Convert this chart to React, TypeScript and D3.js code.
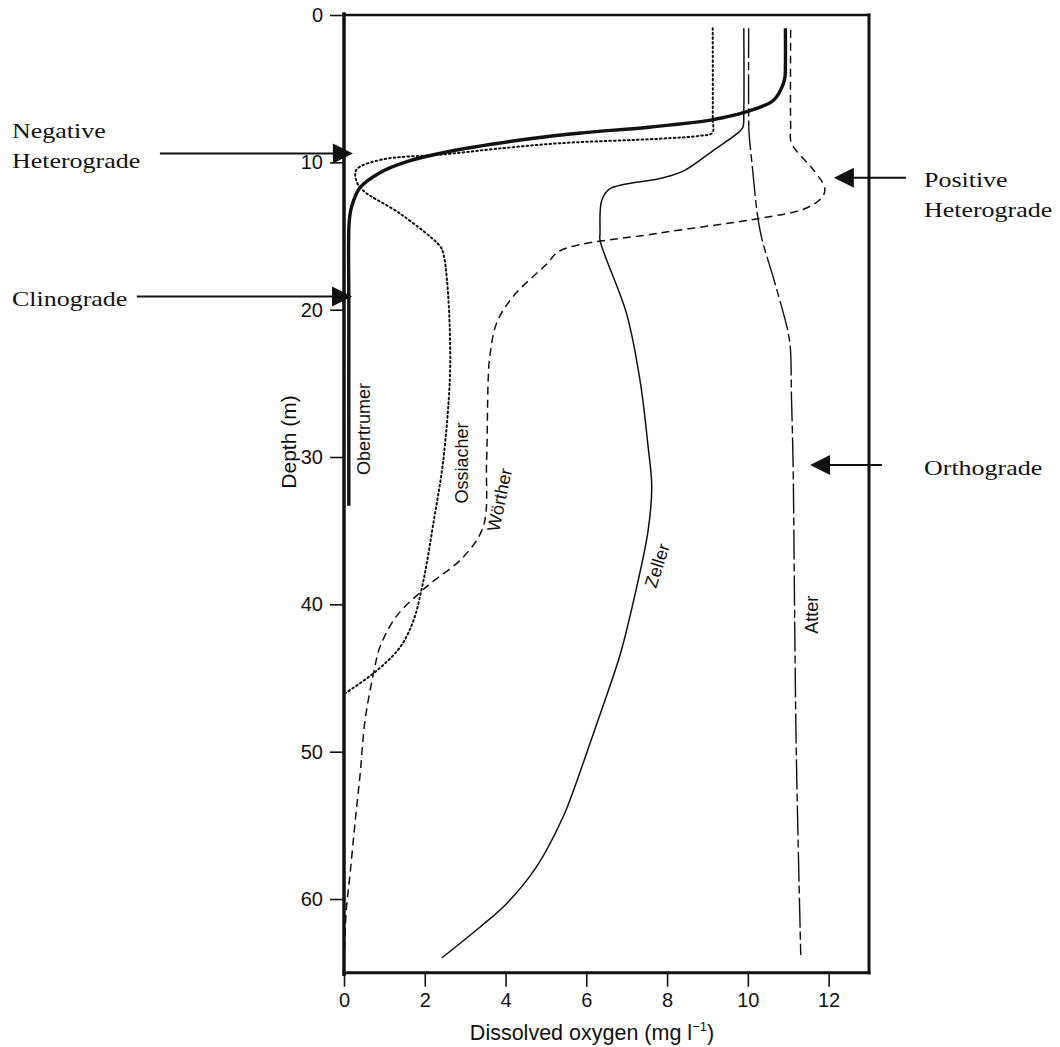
import React, { useEffect, useRef } from "react";
import * as d3 from "d3";

// [depth (m), dissolved oxygen (mg/l)]
const obertrumer = [
  [0.9, 10.93], [3.5, 10.93], [4.2, 10.92], [4.8, 10.86], [5.8, 10.63], [6.6, 9.93],
  [7.1, 9.14], [7.6, 7.6], [8.0, 5.9], [8.4, 4.6], [9.3, 2.54], [10.0, 1.5],
  [10.7, 0.89], [11.7, 0.4], [13.0, 0.19], [14.0, 0.13], [20.0, 0.12], [33.3, 0.12],
];

const ossiacher = [
  [0.9, 9.13], [7.0, 9.13], [8.0, 9.12], [8.2, 8.8], [8.4, 7.8], [8.7, 5.35],
  [9.1, 3.7], [9.44, 2.54], [9.84, 0.89], [10.5, 0.31], [11.2, 0.3], [11.9, 0.47],
  [13.5, 1.4], [15.7, 2.38], [16.2, 2.46], [18.0, 2.55], [21.4, 2.62], [24.8, 2.62],
  [30.4, 2.45], [34.7, 2.2], [37.2, 2.05], [39.0, 1.92], [41.1, 1.72], [42.9, 1.39],
  [44.5, 0.81], [46.0, 0.05],
];

const worther = [
  [1.0, 11.06], [7.5, 11.06], [8.7, 11.08], [10.5, 11.62], [11.7, 11.9], [12.3, 11.86],
  [13.1, 11.45], [13.8, 10.3], [14.8, 7.82], [16.0, 5.35], [16.9, 5.02], [19.1, 4.19],
  [20.9, 3.78], [23.2, 3.61], [24.8, 3.57], [30.4, 3.53], [34.7, 3.45], [36.8, 2.95],
  [38.6, 2.13], [39.2, 1.88], [40.8, 1.3], [42.9, 0.89], [44.7, 0.73], [47.9, 0.52],
  [51.5, 0.4], [54.9, 0.27], [58.3, 0.15], [61.0, 0.05], [64.8, 0.0],
];

const zeller = [
  [0.9, 9.9], [6.5, 9.9], [7.6, 9.88], [7.9, 9.8], [9.2, 9.14], [10.6, 8.4],
  [11.1, 7.82], [11.8, 6.58], [12.6, 6.38], [14.8, 6.34], [15.3, 6.34], [20.3, 7.0],
  [24.8, 7.33], [29.3, 7.53], [32.0, 7.62], [35.0, 7.53], [38.8, 7.25], [43.3, 6.85],
  [47.0, 6.4], [50.0, 6.02], [52.5, 5.7], [54.4, 5.43], [57.8, 4.77], [60.3, 4.03],
  [61.9, 3.37], [64.0, 2.42],
];

const atter = [
  [0.9, 10.02], [7.0, 10.02], [8.0, 10.03], [10.0, 10.1], [14.6, 10.3], [18.0, 10.65],
  [21.2, 10.97], [22.5, 11.05], [25.9, 11.08], [30.4, 11.12], [41.1, 11.16], [50.1, 11.2],
  [63.8, 11.31],
];

const depthTicks = [0, 10, 20, 30, 40, 50, 60];
const oxygenTicks = [0, 2, 4, 6, 8, 10, 12];

const lakes = [
  { name: "Obertrumer", data: obertrumer, width: 3.4, dash: null, label: [0.64, 28.1], angle: -90 },
  { name: "Ossiacher", data: ossiacher, width: 2, dash: "1.6,3", label: [3.07, 30.4], angle: -90 },
  { name: "Wörther", data: worther, width: 1.5, dash: "8,5", label: [4.0, 33.0], angle: -78 },
  { name: "Zeller", data: zeller, width: 1.5, dash: null, label: [7.9, 37.5], angle: -72 },
  { name: "Atter", data: atter, width: 1.4, dash: "30,4,8,4", label: [11.74, 40.7], angle: -90 },
];

// arrows: tail O2, tip O2, depth; text position in page pixels
const arrows = [
  { lines: ["Negative", "Heterograde"], tail: -4.56, tip: 0.22, depth: 9.4, tx: 12, ty: 138 },
  { lines: ["Clinograde"], tail: -5.13, tip: 0.2, depth: 19.1, tx: 12, ty: 306 },
  { lines: ["Positive", "Heterograde"], tail: 13.92, tip: 12.13, depth: 11.05, tx: 924, ty: 187 },
  { lines: ["Orthograde"], tail: 13.32, tip: 11.54, depth: 30.55, tx: 924, ty: 475 },
];

const SANS = "'Liberation Sans', Arial, Helvetica, sans-serif";
const SERIF = "'Liberation Serif', 'Times New Roman', serif";

const OxygenProfiles = () => {
  const chartRef = useRef(null);

  useEffect(() => {
    createChart();
  }, []);

  const createChart = () => {
    const svgWidth = 1060;
    const svgHeight = 1047;

    d3.select(chartRef.current).select("svg").remove();

    const svg = d3
      .select(chartRef.current)
      .append("svg")
      .attr("width", svgWidth)
      .attr("height", svgHeight)
      .style("position", "absolute")
      .style("left", "0px")
      .style("top", "0px")
      .style("background", "#fff");

    const x = d3.scaleLinear().domain([0, 13]).range([344, 869]);
    const y = d3.scaleLinear().domain([0, 65]).range([15, 972.7]);

    // curves
    const line = d3
      .line()
      .x((d) => x(d[1]))
      .y((d) => y(d[0]))
      .curve(d3.curveCatmullRom.alpha(0.5));

    lakes.forEach((lake) => {
      svg
        .append("path")
        .datum(lake.data)
        .attr("d", line)
        .attr("fill", "none")
        .attr("stroke", "#111")
        .attr("stroke-width", lake.width)
        .attr("stroke-dasharray", lake.dash)
        .attr("stroke-linecap", lake.dash === "1.6,3" ? "round" : "butt");

      svg
        .append("text")
        .attr(
          "transform",
          `translate(${x(lake.label[0])},${y(lake.label[1])}) rotate(${lake.angle})`
        )
        .attr("text-anchor", "middle")
        .style("font-family", SANS)
        .style("font-size", "18px")
        .attr("fill", "#111")
        .text(lake.name);
    });

    // frame
    const [x0, x1] = x.range();
    const [y0, y1] = y.range();
    const frame = [
      { a: [x0, y0], b: [x1, y0], w: 2.5 },
      { a: [x1, y0], b: [x1, y1], w: 3 },
      { a: [x0, y1], b: [x1, y1], w: 3 },
      { a: [x0, y0 - 1], b: [x0, y1 + 1.5], w: 3.5 },
    ];
    frame.forEach((f) => {
      svg
        .append("line")
        .attr("x1", f.a[0])
        .attr("y1", f.a[1])
        .attr("x2", f.b[0])
        .attr("y2", f.b[1])
        .attr("stroke", "#111")
        .attr("stroke-width", f.w)
        .attr("stroke-linecap", "square");
    });

    // axes
    const yAxis = svg
      .append("g")
      .attr("transform", `translate(${x0},0)`)
      .call(d3.axisLeft(y).tickValues(depthTicks).tickSize(14).tickPadding(7));
    yAxis.select(".domain").remove();
    yAxis.selectAll("line").attr("stroke", "#111").attr("stroke-width", 1.6);
    yAxis
      .selectAll("text")
      .style("font-family", SANS)
      .style("font-size", "20px")
      .attr("fill", "#111");

    const xAxis = svg
      .append("g")
      .attr("transform", `translate(0,${y1})`)
      .call(d3.axisBottom(x).tickValues(oxygenTicks).tickSize(14).tickPadding(6));
    xAxis.select(".domain").remove();
    xAxis.selectAll("line").attr("stroke", "#111").attr("stroke-width", 1.6);
    xAxis
      .selectAll("text")
      .style("font-family", SANS)
      .style("font-size", "20px")
      .attr("fill", "#111");

    // axis titles
    svg
      .append("text")
      .attr("transform", `translate(296,442) rotate(-90)`)
      .attr("text-anchor", "middle")
      .style("font-family", SANS)
      .style("font-size", "21px")
      .attr("fill", "#111")
      .text("Depth (m)");

    const xt = svg
      .append("text")
      .attr("x", 592)
      .attr("y", 1040)
      .attr("text-anchor", "middle")
      .style("font-family", SANS)
      .style("font-size", "21.5px")
      .attr("fill", "#111");
    xt.append("tspan").text("Dissolved oxygen (mg l");
    xt.append("tspan").attr("dy", -9).style("font-size", "13px").text("−1");
    xt.append("tspan").attr("dy", 9).text(")");

    // arrows and annotations
    arrows.forEach((a) => {
      const yy = y(a.depth);
      const tip = x(a.tip);
      const tail = x(a.tail);
      const dir = tip > tail ? 1 : -1;
      svg
        .append("line")
        .attr("x1", tail)
        .attr("x2", tip - dir * 18)
        .attr("y1", yy)
        .attr("y2", yy)
        .attr("stroke", "#111")
        .attr("stroke-width", 2);
      svg
        .append("path")
        .attr(
          "d",
          `M${tip},${yy} L${tip - dir * 20},${yy - 10} L${tip - dir * 20},${yy + 10} Z`
        )
        .attr("fill", "#111");

      a.lines.forEach((t, i) => {
        svg
          .append("text")
          .attr("transform", `translate(${a.tx},${a.ty + i * 30}) scale(1.18,1)`)
          .style("font-family", SERIF)
          .style("font-size", "22px")
          .attr("fill", "#111")
          .text(t);
      });
    });
  };

  return <div ref={chartRef}></div>;
};

export default function App() {
  return <OxygenProfiles />;
}
